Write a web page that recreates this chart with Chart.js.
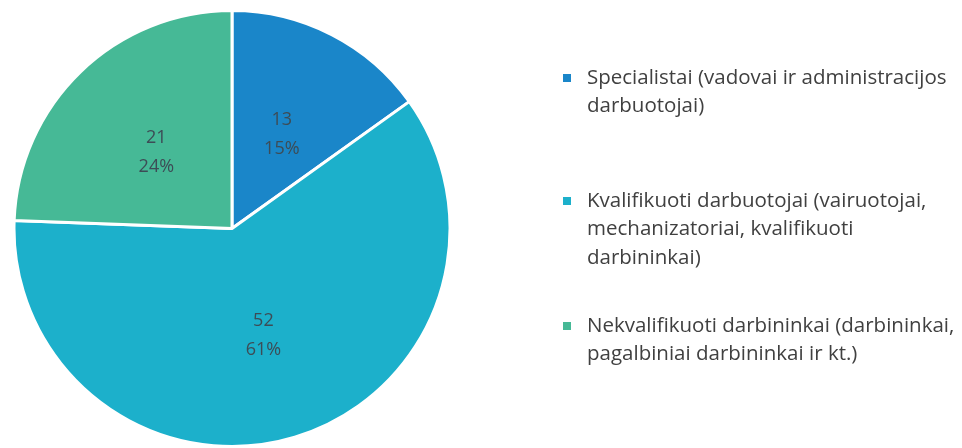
<!DOCTYPE html>
<html>
<head>
<meta charset="utf-8">
<script src="https://cdn.jsdelivr.net/npm/chart.js@4/dist/chart.umd.min.js"></script>
<style>
html,body{margin:0;padding:0;background:#fff;}
#wrap{width:962px;height:448px;position:relative;}
</style>
</head>
<body>
<div id="wrap"><canvas id="c" width="962" height="448"></canvas></div>
<script>
const categories = [
  ["Specialistai (vadovai ir administracijos", "darbuotojai)"],
  ["Kvalifikuoti darbuotojai (vairuotojai,", "mechanizatoriai, kvalifikuoti", "darbininkai)"],
  ["Nekvalifikuoti darbininkai (darbininkai,", "pagalbiniai darbininkai ir kt.)"]
];
const values = [13, 52, 21];
const percentLabels = ["15%", "61%", "24%"];
const colors = ["#1a86c9", "#1cb0cb", "#46b996"];

const FONT = "'Open Sans', sans-serif";

const sliceLabels = {
  id: 'sliceLabels',
  afterDatasetsDraw(chart) {
    const ctx = chart.ctx;
    const meta = chart.getDatasetMeta(0);
    ctx.save();
    ctx.font = "18px " + FONT;
    ctx.fillStyle = "#3d4c56";
    ctx.textAlign = "center";
    ctx.textBaseline = "middle";
    meta.data.forEach((arc, i) => {
      const p = arc.getCenterPoint();
      ctx.fillText(String(values[i]), p.x, p.y - 12);
      ctx.fillText(percentLabels[i], p.x, p.y + 17);
    });
    ctx.restore();
  }
};

const sideLegend = {
  id: 'sideLegend',
  afterDraw(chart) {
    const ctx = chart.ctx;
    ctx.save();
    ctx.font = "20.5px " + FONT;
    ctx.textBaseline = "middle";
    ctx.textAlign = "left";
    const startY = [78, 201, 326];
    const lineH = 28.5;
    categories.forEach((lines, i) => {
      const y0 = startY[i];
      ctx.fillStyle = colors[i];
      ctx.fillRect(563, y0 - 4, 8, 8);
      ctx.fillStyle = "#404040";
      lines.forEach((t, j) => ctx.fillText(t, 587, y0 + j * lineH));
    });
    ctx.restore();
  }
};

new Chart(document.getElementById('c'), {
  type: 'pie',
  data: {
    labels: categories.map(l => l.join(' ')),
    datasets: [{
      data: values,
      backgroundColor: colors,
      borderColor: '#ffffff',
      borderWidth: 3
    }]
  },
  options: {
    responsive: false,
    animation: false,
    layout: { padding: { left: 10, right: 508, top: 9, bottom: 0 } },
    plugins: {
      legend: { display: false },
      tooltip: { enabled: false }
    }
  },
  plugins: [sliceLabels, sideLegend]
});
</script>
</body>
</html>
